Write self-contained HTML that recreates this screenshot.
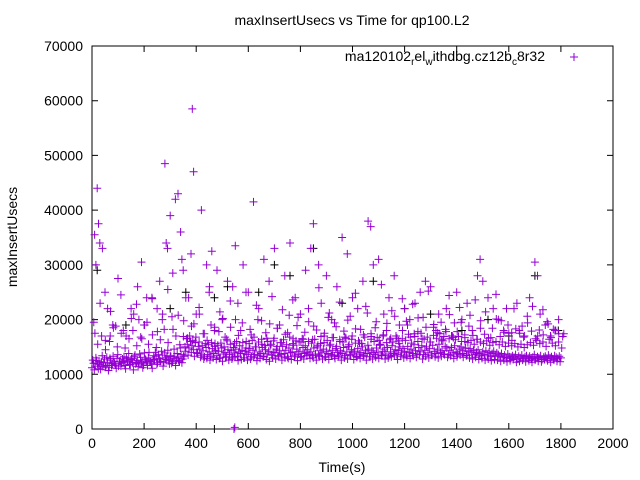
<!DOCTYPE html>
<html><head><meta charset="utf-8"><style>
html,body{margin:0;padding:0;background:#fff;}
svg{display:block;font-family:"Liberation Sans",sans-serif;}
</style></head><body>
<svg id="chart" width="640" height="480" viewBox="0 0 640 480" xmlns="http://www.w3.org/2000/svg">
<text x="352" y="25" font-size="14" text-anchor="middle">maxInsertUsecs vs Time for qp100.L2</text>
<text transform="translate(17,237) rotate(-90)" font-size="14" text-anchor="middle">maxInsertUsecs</text>
<text x="342" y="472" font-size="14" text-anchor="middle">Time(s)</text>
<g id="axes"></g>
<g id="marks"></g>
<g>
<text x="545" y="61" font-size="14" text-anchor="end">ma120102<tspan font-size="10" dy="4">r</tspan><tspan dy="-4">el</tspan><tspan font-size="10" dy="4">w</tspan><tspan dy="-4">ithdbg.cz12b</tspan><tspan font-size="10" dy="4">c</tspan><tspan dy="-4">8r32</tspan></text>
<path d="M570,57h8M574,53v8" stroke="#9400d3" stroke-width="1"/>
</g>
</svg>
<script>
const xTicks=[0,200,400,600,800,1000,1200,1400,1600,1800,2000];
const yTicks=[0,10000,20000,30000,40000,50000,60000,70000];
const bandStep=6;
const bandK=[
11.2,12.0,11.5,12.5,11.0,11.8,12.2,11.4,12.8,11.6,12.1,11.3,12.6,11.9,12.3,11.7,12.9,11.5,12.4,12.0,
12.2,11.6,13.0,12.4,11.8,12.7,12.1,13.2,11.9,12.5,12.0,13.1,12.3,11.7,12.8,12.2,13.0,12.4,11.9,12.6,
12.7,13.3,12.1,12.9,12.4,13.5,12.2,12.8,13.1,12.5,13.4,12.0,12.9,13.2,12.6,13.0,12.3,13.6,12.8,13.3,
14.2,15.5,14.8,16.0,15.2,14.5,15.8,14.0,15.1,14.6,13.5,14.3,13.2,14.9,13.6,14.1,13.3,14.7,13.8,14.4,
13.4,14.2,13.0,14.8,13.7,14.0,13.2,14.5,13.6,14.3,13.1,13.9,14.6,13.3,14.1,13.8,14.4,13.0,14.2,13.6,
13.9,14.7,13.2,14.4,13.6,15.0,13.4,14.1,13.8,14.9,13.3,14.5,13.7,14.2,15.2,13.5,14.0,13.9,14.6,13.4,
14.3,13.6,15.1,13.8,14.4,13.2,14.8,13.9,14.1,15.3,13.5,14.6,13.7,14.2,13.3,14.9,13.8,14.0,14.5,13.6,
14.1,13.4,14.8,13.7,15.0,13.5,14.3,13.9,14.6,13.2,14.2,13.8,15.2,13.6,14.4,13.3,14.7,14.0,13.5,14.3,
13.8,14.9,13.4,14.1,15.1,13.6,14.5,13.9,14.2,13.3,14.7,13.7,14.0,15.0,13.5,14.4,13.8,14.6,13.2,14.3,
14.0,13.6,14.8,13.9,15.3,13.5,14.2,14.6,13.7,14.9,13.4,14.1,15.2,13.8,14.5,13.6,14.3,15.0,13.9,14.7,
14.2,13.5,15.1,14.0,14.6,13.8,15.4,14.3,13.7,14.9,14.1,15.2,13.6,14.4,15.0,13.9,14.7,13.5,15.3,14.2,
13.8,14.6,15.5,14.0,14.3,13.7,15.1,14.8,13.6,14.4,14.9,13.9,15.2,14.1,13.7,14.6,15.0,13.8,14.3,14.8,
13.5,14.2,14.7,13.9,14.4,13.6,14.0,14.5,13.8,13.4,14.1,13.6,14.3,13.5,14.0,13.2,13.8,14.2,13.4,13.9,
13.6,13.3,13.8,13.1,13.5,13.0,13.7,13.2,12.9,13.4,13.1,13.6,12.8,13.3,13.0,13.5,12.9,13.2,13.4,13.0,
13.3,12.8,13.1,13.6,12.9,13.2,13.0,13.4,12.7,13.1,13.3,12.9,13.5,13.0,13.2,12.8,13.4,13.1,12.9,13.3,
13.0
];
const band2Step=6;
const band2K=[
12.6,10.8,13.0,11.9,12.3,10.9,13.4,12.1,11.3,13.1,10.7,12.9,11.6,13.3,12.0,11.1,13.6,12.4,11.5,12.8,
13.2,11.0,12.5,13.8,11.7,12.9,10.8,13.5,12.2,11.4,13.7,12.0,11.2,13.9,12.6,11.6,14.0,12.3,11.1,13.4,
14.0,11.8,13.6,12.4,14.2,11.5,13.9,12.7,14.4,11.9,13.2,12.3,14.6,11.6,13.8,12.5,14.8,12.1,13.3,15.0,
16.5,13.5,17.0,14.0,16.2,13.3,16.8,13.8,15.9,13.1,15.2,12.8,15.6,12.9,15.4,12.6,15.8,13.0,15.1,12.7,
15.3,12.9,15.7,12.4,15.0,13.1,16.1,12.6,15.5,12.8,14.9,13.2,16.0,12.5,15.2,12.7,15.8,13.0,14.8,12.6,
15.6,12.8,16.2,13.1,15.0,12.5,15.9,12.9,16.4,13.2,15.3,12.7,16.0,12.4,15.5,13.0,16.6,12.8,15.1,13.3,
15.8,12.6,16.3,13.0,15.4,12.9,16.8,12.7,15.6,13.2,16.1,12.5,15.9,13.1,16.5,12.8,15.2,13.4,16.0,12.9,
15.7,13.0,16.4,12.6,15.3,13.3,16.9,12.8,15.8,13.1,16.2,12.7,15.5,13.4,16.7,12.9,15.1,13.2,16.3,12.6,
15.9,13.0,16.6,12.8,15.4,13.5,17.0,12.7,15.7,13.1,16.1,12.9,15.6,13.3,16.8,12.6,15.3,13.2,16.4,12.8,
16.0,13.1,16.7,12.9,15.5,13.4,17.2,12.8,15.8,13.0,16.3,13.2,15.9,13.5,17.0,12.7,15.6,13.3,16.5,13.0,
16.2,13.2,17.3,12.9,15.7,13.4,16.9,13.1,16.0,13.6,17.5,12.8,16.4,13.3,16.8,13.0,15.9,13.5,17.1,13.2,
16.6,13.0,17.4,13.3,16.1,13.6,17.8,13.1,16.5,13.4,17.0,12.9,16.3,13.2,16.9,13.5,16.0,13.1,16.7,13.4,
15.8,13.0,16.2,12.8,15.5,13.1,16.4,12.7,15.9,12.9,15.6,12.6,16.1,12.8,15.3,12.5,15.8,12.7,16.0,12.6,
15.4,12.4,15.9,12.6,15.1,12.3,15.7,12.5,15.2,12.7,15.6,12.2,15.0,12.4,15.5,12.6,14.9,12.3,15.4,12.5,
15.8,12.2,15.3,12.6,16.2,12.4,15.6,12.3,15.9,12.7,15.1,12.5,16.4,12.2,15.7,12.6,15.2,12.4,15.9,12.3,
14.8
];
const midStep=15;
const midK=[
19.5,15.5,17.0,14.5,16.0,18.5,15.0,17.5,14.8,16.5,18.0,15.2,16.8,19.0,15.5,17.2,14.9,16.3,18.2,15.8,
20.5,17.0,15.4,19.8,16.6,18.8,15.9,21.0,17.4,16.2,19.0,15.6,17.8,20.2,16.4,18.6,15.7,17.1,19.4,16.0,
18.2,16.8,20.0,15.5,17.6,19.2,16.1,18.4,15.8,17.3,20.8,16.5,18.9,15.9,17.7,19.6,16.3,18.1,15.6,17.5,
20.4,16.7,18.7,16.0,17.9,19.9,16.4,18.3,15.7,17.2,21.2,16.9,18.5,16.2,17.0,19.3,16.6,20.6,16.1,18.0,
19.7,16.8,17.4,20.3,16.5,18.6,15.9,19.1,17.6,16.3,18.2,20.9,16.7,17.8,19.5,16.0,18.8,17.1,16.4,19.8,
17.3,16.6,18.4,20.1,16.9,17.7,19.0,16.2,18.3,17.5,16.8,19.4,17.9,16.5,18.1,17.2,19.6,16.7,18.0,17.4,
16.9
];
const mid2Step=20;
const mid2K=[
17.5,23.0,16.2,21.5,18.8,24.5,17.0,20.2,22.8,16.5,19.5,23.8,17.8,21.0,25.5,18.2,20.8,16.9,24.0,19.2,
22.2,17.4,26.0,18.6,21.4,16.8,23.4,20.0,18.0,25.0,17.2,22.6,19.8,16.6,24.2,18.4,21.8,17.6,23.6,20.4,
16.4,22.0,18.8,25.8,17.0,21.2,19.4,23.2,16.8,20.6,24.8,18.2,22.4,17.4,19.6,26.4,18.0,21.6,16.6,23.8,
19.0,22.8,17.8,20.4,25.2,18.6,21.0,16.9,24.4,19.4,22.2,17.2,20.8,23.6,18.4,21.4,16.7,24.6,19.8,22.0,
17.6,23.0,18.8,20.6,22.4,17.0,21.8,19.2,18.2,20.0,17.4
];
const outT=[10,15,20,25,30,40,50,60,70,80,100,120,150,160,175,180,190,200,210,230,250,260,270,280,285,290,300,310,320,330,340,345,350,360,380,385,390,400,420,440,450,460,470,480,500,520,540,550,560,580,600,620,640,660,680,700,720,740,760,780,800,820,840,850,870,880,900,920,940,960,980,1000,1020,1040,1060,1070,1080,1100,1120,1140,1160,1180,1200,1220,1240,1260,1280,1300,1320,1340,1360,1380,1400,1420,1440,1460,1480,1490,1500,1520,1540,1560,1580,1600,1620,1640,1660,1680,1700,1710,1720,1740,1760,1780,545,548];
const outK=[35.5,30,44,37.5,34,33,25,22,17,19,27.5,18,22,21,26,20,30.5,19,24,24,22,27,20,48.5,34,33,39,28.5,42,43,36,31,29,24,32,58.5,47,21,40,30,25,32.5,18,29,20,27,26,33.5,23,30,25,41.5,22,31,27,33,19,28,34,24,21,29,33,37.5,30,23,28,20,26,35,32,24,22,27,38,37,30,31,21,24,28,19,22,20,23,25,27,26,18,19.5,22,17,25,20,23,18,28,31,27,24,22,20,18,17.5,22,18,17,24,30.5,28,21,19,17,18,0,0.3];
const blackT=[20,130,300,360,470,470,520,640,700,760,850,960,1080,1200,1300,1420,1520,1600,1700,1790];
const blackK=[29,19,22,25,24,0,26,25,30,28,33,23,27,22,21,18,20,17,28,18];

const svgNS="http://www.w3.org/2000/svg";
const L=92,R=613,T=46,B=429;
function X(t){return L+(t-0)*(R-L)/2000;}
function Y(v){return B-v*(B-T)/70000;}
const axes=document.getElementById('axes');
const marks=document.getElementById('marks');
function mk(tag,attrs,parent){const e=document.createElementNS(svgNS,tag);for(const k in attrs)e.setAttribute(k,attrs[k]);parent.appendChild(e);return e;}
const frame=mk('rect',{x:L,y:T,width:R-L,height:B-T,fill:'none',stroke:'#000','stroke-width':1},axes);


xTicks.forEach(v=>{const x=X(v);
const tk=mk('path',{d:`M${x},${B}v-6M${x},${T}v6`,stroke:'#000'},axes);


const lb=mk('text',{x:x,y:B+19,'font-size':14,'text-anchor':'middle'},axes);lb.textContent=v;

});
yTicks.forEach(v=>{const y=Y(v);
const tk=mk('path',{d:`M${L},${y}h6M${R},${y}h-6`,stroke:'#000'},axes);


const lb=mk('text',{x:L-9,y:y+5,'font-size':14,'text-anchor':'end'},axes);lb.textContent=v;

});
let d='';
function plus(t,v){const x=X(t),y=Y(v);return `M${(x-4).toFixed(1)},${y.toFixed(1)}h8M${x.toFixed(1)},${(y-4).toFixed(1)}v8`;}
bandK.forEach((k,i)=>{d+=plus(i*bandStep,k*1000);});
band2K.forEach((k,i)=>{d+=plus(i*band2Step+3,k*1000);});
midK.forEach((k,i)=>{d+=plus(i*midStep+7,k*1000);});
mid2K.forEach((k,i)=>{d+=plus(i*mid2Step+11,k*1000);});
outT.forEach((t,i)=>{d+=plus(t,outK[i]*1000);});
let db='';
blackT.forEach((t,i)=>{db+=plus(t,blackK[i]*1000);});
const pb=mk('path',{d:db,stroke:'#000','stroke-width':1,fill:'none'},marks);


const pp=mk('path',{d:d,stroke:'#9400d3','stroke-width':1,fill:'none'},marks);


</script>
</body></html>
